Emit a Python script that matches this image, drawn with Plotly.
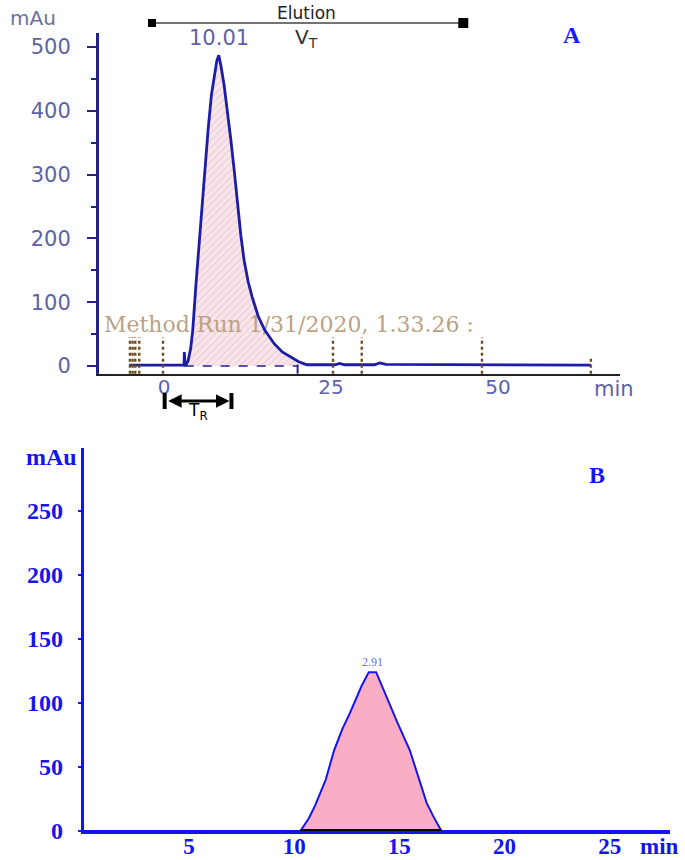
import plotly.graph_objects as go

# the page body margin is removed (see post_script below); the figure fills the window
OX, OY = 0, 0
W, H = 685, 860

# ---------------- Panel A data ----------------
base_left_x = [-5.2, 3.0]
base_left_y = [1.5, 1.5]
spike_x = [3.0, 3.05, 3.15]
spike_y = [1.5, 22, 1.5]
peak_a_x = [3.3, 3.6, 4.0, 4.3, 4.8, 5.4, 6.0, 6.6, 7.1, 7.6, 7.9, 8.2, 8.5, 9.0, 9.5, 10.0, 10.5,
            11.0, 11.5, 12.0, 12.6, 13.2, 14.1, 15.1, 16.5, 17.7, 18.9, 20.1, 21.4]
peak_a_y = [2, 8, 28, 56, 130, 213, 292, 370, 425, 462, 478, 487, 472, 440, 400, 355, 308,
            255, 205, 165, 132, 108, 78, 56, 35, 22, 14, 7, 2]
base_right_x = [21.4, 25.6, 26.3, 27.0, 31.5, 32.3, 33.2, 47.6, 63.9]
base_right_y = [2, 2, 4, 2, 2, 5, 2.5, 2.5, 1.5]
event_times_a = [-5.1, -4.7, -4.3, -3.7, -0.15, 25.3, 29.6, 47.6]
event_end_a = 63.9
integration_a = [3.1, 20.0]
elution_range = [-1.8, 44.8]
tr_range = [0.1, 10.1]
yticks_a = [0, 100, 200, 300, 400, 500]
xticks_a = [0, 25, 50]

# ---------------- Panel B data ----------------
trace_b_x = [0, 10.3, 10.7, 11.0, 11.5, 11.9, 12.3, 12.65, 13.2, 13.55, 13.9, 14.3, 14.9, 15.5,
             16.0, 16.3, 16.6, 17.0, 27.9]
trace_b_y = [0, 0, 10, 20, 40, 63, 80, 92, 113, 124, 124, 108, 85, 63, 38, 22, 12, 0, 0]
peak_b_range = [10.3, 17.0]
yticks_b = [0, 50, 100, 150, 200, 250]
xticks_b = [5, 10, 15, 20, 25]

SLATE = "#5d62a8"
NAVY = "#22228a"
BROWN = "#6e4c22"
BLUE = "#1414f0"
SANS = "DejaVu Sans"
SERIF = "Liberation Serif"


def px_x(p):
    return (p - OX) / W


def px_y(p):
    return 1 - (p - OY) / H


fig = go.Figure()

# event markers
for t in event_times_a:
    fig.add_shape(type="line", xref="x", yref="y", x0=t, x1=t, y0=-12, y1=45,
                  line=dict(color=BROWN, width=2.4, dash="dot"))
fig.add_shape(type="line", xref="x", yref="y", x0=event_end_a, x1=event_end_a, y0=-12, y1=14,
              line=dict(color=BROWN, width=2.4, dash="dot"))

# filled peak A
fig.add_trace(go.Scatter(x=peak_a_x, y=peak_a_y, mode="lines", fill="tozeroy",
                         fillcolor="#f6e0e6",
                         fillpattern=dict(shape="/", size=5, solidity=0.25, fgcolor="#e2b4c2", bgcolor="#f8e6eb"),
                         line=dict(width=0), xaxis="x", yaxis="y", showlegend=False, hoverinfo="skip"))

# Method run text (over the fill, under the signal line)
fig.add_trace(go.Scatter(x=[18.7], y=[62], mode="text", text=["Method Run 1/31/2020, 1.33.26 :"],
                         textfont=dict(family="DejaVu Serif", size=22, color="#bba283"),
                         xaxis="x", yaxis="y", showlegend=False, hoverinfo="skip"))

# dashed integration baseline
fig.add_trace(go.Scatter(x=integration_a, y=[0, 0], mode="lines",
                         line=dict(color=NAVY, width=1.5, dash="dash"),
                         xaxis="x", yaxis="y", showlegend=False, hoverinfo="skip"))
fig.add_shape(type="line", xref="x", yref="y", x0=integration_a[1], x1=integration_a[1], y0=-12, y1=2,
              line=dict(color=NAVY, width=2))

# signal A
sig_x = base_left_x + spike_x + peak_a_x + base_right_x
sig_y = base_left_y + spike_y + peak_a_y + base_right_y
fig.add_trace(go.Scatter(x=sig_x, y=sig_y, mode="lines", line=dict(color="#1c1ca8", width=2.8),
                         xaxis="x", yaxis="y", showlegend=False, hoverinfo="skip"))

# ---------------- Panel B traces ----------------
fig.add_trace(go.Scatter(x=trace_b_x, y=trace_b_y, mode="lines", fill="tozeroy", fillcolor="#f9aec6",
                         line=dict(color=BLUE, width=2), xaxis="x2", yaxis="y2",
                         showlegend=False, hoverinfo="skip"))
fig.add_trace(go.Scatter(x=peak_b_range, y=[0, 0], mode="lines", line=dict(color="black", width=4),
                         xaxis="x2", yaxis="y2", showlegend=False, hoverinfo="skip"))

# ---------------- Axes ----------------
fig.update_layout(
    width=W, height=H, margin=dict(l=0, r=0, t=0, b=0),
    paper_bgcolor="white", plot_bgcolor="white", showlegend=False,
    xaxis=dict(domain=[px_x(99), px_x(620)], range=[-9.73, 68.26], anchor="y",
               showgrid=False, zeroline=False, showline=True, linecolor="#222", linewidth=2,
               tickvals=xticks_a, ticks="", ticklabelstandoff=-6,
               tickfont=dict(family=SANS, size=20, color=SLATE), automargin=False),
    yaxis=dict(domain=[px_y(374), px_y(33)], range=[-12.5, 522], anchor="x",
               showgrid=False, zeroline=False, showline=True, linecolor=NAVY, linewidth=3,
               tickvals=yticks_a, ticks="outside", ticklen=9, tickwidth=2, tickcolor=NAVY,
               minor=dict(dtick=50, tick0=0, ticks="outside", ticklen=5, tickwidth=1.5, tickcolor=NAVY),
               ticklabelstandoff=12,
               tickfont=dict(family=SANS, size=21, color=SLATE), automargin=False),
    xaxis2=dict(domain=[px_x(83.8), px_x(670)], range=[0, 27.87], anchor="y2",
                showgrid=False, zeroline=False, showline=True, linecolor=BLUE, linewidth=3,
                tickvals=xticks_b, ticks="", ticklabelstandoff=-8,
                tickfont=dict(family=SERIF, size=23, color=BLUE, weight="bold"),
                automargin=False),
    yaxis2=dict(domain=[px_y(831), px_y(448)], range=[0, 299], anchor="x2",
                showgrid=False, zeroline=False, showline=True, linecolor=BLUE, linewidth=3,
                tickvals=yticks_b, ticks="outside", ticklen=3, tickwidth=2, tickcolor=BLUE,
                ticklabelstandoff=10,
                tickfont=dict(family=SERIF, size=24, color=BLUE, weight="bold"),
                automargin=False),
)

# ---------------- Decorations / text ----------------
ann = []


def label(text, x, y, size, color, family=SANS, xref="paper", yref="paper"):
    ann.append(dict(text=text, xref=xref, yref=yref, x=x, y=y, showarrow=False,
                    xanchor="center", yanchor="middle",
                    font=dict(family=family, size=size, color=color)))


# elution bar
fig.add_shape(type="line", xref="x", yref="paper", x0=elution_range[0], x1=elution_range[1],
              y0=px_y(23), y1=px_y(23), line=dict(color="#444", width=1.5))
for i, xv in enumerate(elution_range):
    s = 4 if i == 0 else 5
    fig.add_shape(type="rect", xref="x", yref="paper", xsizemode="pixel", ysizemode="pixel",
                  xanchor=xv, yanchor=px_y(23), x0=-s, x1=s, y0=-s, y1=s,
                  fillcolor="black", line=dict(width=0))
label("Elution", 21.4, px_y(13), 17, "#222", xref="x")
label("10.01", 8.2, px_y(38), 21, SLATE, xref="x")
label("V<sub>T</sub>", 21.3, px_y(38), 20, "#333", xref="x")
label("mAu", px_x(33), px_y(18), 20, "#6b6f9e")
label("<b>A</b>", px_x(572), px_y(35), 24, "#1a1aff", family=SERIF)
label("min", px_x(614), px_y(389), 21, SLATE)

# T_R arrow
ann.append(dict(text="", xref="x", yref="paper", x=tr_range[1], y=px_y(401),
                axref="x", ayref="pixel", ax=tr_range[0], ay=0,
                showarrow=True, arrowside="end+start", arrowhead=2, arrowsize=0.9, arrowwidth=3,
                arrowcolor="black", standoff=2, startstandoff=2))
for xv in tr_range:
    fig.add_shape(type="line", xref="x", yref="paper", x0=xv, x1=xv, y0=px_y(393), y1=px_y(409),
                  line=dict(color="black", width=4))
label("T<sub>R</sub>", (tr_range[0] + tr_range[1]) / 2, px_y(411), 17, "black", xref="x")

# Panel B text
label("<b>mAu</b>", px_x(51), px_y(457), 24, BLUE, family=SERIF)
label("<b>B</b>", px_x(597), px_y(475), 24, BLUE, family=SERIF)
label("<b>min</b>", px_x(659), px_y(846), 23, BLUE, family=SERIF)
ann.append(dict(text="2.91", xref="x2", yref="y2", x=13.72, y=124, yshift=10, showarrow=False,
                xanchor="center", yanchor="middle",
                font=dict(family=SERIF, size=12, color="#6a6aff")))

fig.update_layout(annotations=ann)
fig.write_html("out.html", config={"displayModeBar": False},
               post_script="document.body.style.margin = '0px';")
